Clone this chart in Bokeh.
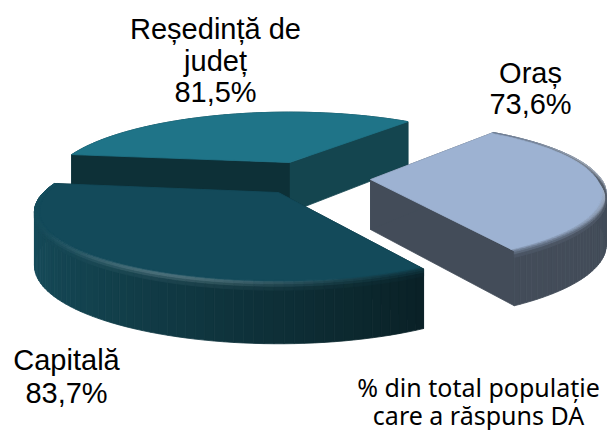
import math
from bokeh.plotting import figure
from bokeh.models import Range1d
from bokeh.core.properties import value
from bokeh.embed import file_html
from bokeh.resources import INLINE

# data
categories = ["Capitală", "Reședință de județ", "Oraș"]
values = [83.7, 81.5, 73.6]
note_lines = ["% din total populație", "care a răspuns DA"]

# layout (pixels of the page)
W, H = 608, 430
BEVEL = 0.022
START = 50.0   # angle of the Oraș / Reședință border
LABEL_FONT, LABEL_SIZE = "Liberation Sans", "29px"
NOTE_FONT, NOTE_SIZE = "Noto Sans", "25px"

STYLES = {
    "Capitală": dict(ax=278, ay=192, f=235, g=66, p=.27, d=52, rot=-1, back=False,
                     top="#134a5a", c0="#1a5566", c1="#12404c", c2="#0a2126",
                     cutA="#0d3037", cutB="#0d3037", hl=0.28, hl_at=250, hl_w=25),
    "Reședință de județ": dict(ax=289, ay=162, f=228, g=66, p=.31, d=50, rot=0, back=True,
                     top="#1f7488", c0="#14454f", c1="#14454f", c2="#14454f",
                     cutA="#14454f", cutB="#0d3037", hl=0.0, hl_at=110, hl_w=30),
    "Oraș": dict(ax=370, ay=179, f=231, g=69, p=.2, d=50, rot=2, back=True,
                 top="#9db2d2", c0="#434c59", c1="#434c59", c2="#434c59",
                 cutA="#434c59", cutB="#434c59", hl=0.45, hl_at=5, hl_w=28),
}
LABELS = [
    (["Capitală", "83,7%"], 66, [359, 392], LABEL_FONT, LABEL_SIZE),
    (["Reședință de", "județ", "81,5%"], 215, [28, 60, 91], LABEL_FONT, LABEL_SIZE),
    (["Oraș", "73,6%"], 530, [72, 103], LABEL_FONT, LABEL_SIZE),
    (note_lines, 478, [386, 414], NOTE_FONT, NOTE_SIZE),
]


def rgb(c):
    return [int(c[i:i + 2], 16) for i in (1, 3, 5)]


def mix(a, b, t):
    t = max(0.0, min(1.0, t))
    ra, rb = rgb(a), rgb(b)
    return "#%02x%02x%02x" % tuple(round(x + (y - x) * t) for x, y in zip(ra, rb))


p = figure(width=W, height=H, x_range=Range1d(0, W), y_range=Range1d(H, 0),
           toolbar_location=None, output_backend="svg", min_border=0, outline_line_color=None)
p.axis.visible = False
p.grid.visible = False
p.background_fill_color = None
p.border_fill_color = None

total = sum(values)
spans = {}
a = START
for name in ["Reședință de județ", "Capitală", "Oraș"]:
    s = values[categories.index(name)] / total * 360
    spans[name] = (a, a + s)
    a += s


def side_color(st, t):
    return mix(st["c0"], st["c1"], t * 2) if t < .5 else mix(st["c1"], st["c2"], t * 2 - 1)


def draw(name):
    st = STYLES[name]
    a0, a1 = spans[name]
    a0 += st["rot"]
    a1 += st["rot"]
    N = 70
    angs = [a0 + (a1 - a0) * i / N for i in range(N + 1)]

    def pt(ang, r=1.0, dz=0.0):
        th = math.radians(ang)
        X, Y = r * math.cos(th), r * math.sin(th)
        w = 1 + st["p"] * Y
        return st["ax"] + st["f"] * X / w, st["ay"] - st["g"] * Y / w + dz * st["d"] * w ** -0.5

    xs, ys, cs = [], [], []

    def add(pts, c):
        xs.append([q[0] for q in pts])
        ys.append([q[1] for q in pts])
        cs.append(c)

    def cuts():
        add([pt(0, 0), pt(a0), pt(a0, 1, 1), pt(0, 0, 1)], st["cutA"])
        add([pt(0, 0), pt(a1), pt(a1, 1, 1), pt(0, 0, 1)], st["cutB"])

    if not st["back"]:
        cuts()
    # outer wall
    for i in range(N):
        t = (i + .5) / N
        add([pt(angs[i]), pt(angs[i + 1]), pt(angs[i + 1], 1, 1), pt(angs[i], 1, 1)], side_color(st, t))
    if st["back"]:
        cuts()
    # bevel
    levels = [(1 - BEVEL, 0), (1 - BEVEL * .6, 0), (1 - BEVEL * .25, 0), (1, 0), (1, .03), (1, .07), (1, .12)]
    for i in range(N):
        t = (i + .5) / N
        ang = (angs[i] + angs[i + 1]) / 2
        d = (ang - st["hl_at"] + 180) % 360 - 180
        h = st["hl"] * math.exp(-(d / st["hl_w"]) ** 2)
        sc = side_color(st, t)
        peak = mix(mix(st["top"], sc, .45), "#ffffff", h)
        if st["back"] and name != "Oraș":
            continue
        for k in range(len(levels) - 1):
            c = mix(st["top"], peak, (k + .5) / 3) if k < 3 else mix(peak, sc, (k - 2.5) / 3)
            r0, z0 = levels[k]
            r1, z1 = levels[k + 1]
            add([pt(angs[i], r0, z0), pt(angs[i + 1], r0, z0), pt(angs[i + 1], r1, z1), pt(angs[i], r1, z1)], c)
    # top
    top_r = 1 if st["back"] and name != "Oraș" else 1 - BEVEL * .9
    add([pt(0, 0)] + [pt(q, top_r) for q in angs], st["top"])
    p.patches(xs, ys, fill_color=cs, line_color=cs, line_width=0.8)


for n in ["Reședință de județ", "Oraș", "Capitală"]:
    draw(n)

for lines, x, yy, font, size in LABELS:
    p.text([x] * len(lines), yy, text=lines, text_align="center", text_baseline="middle",
           text_font=value(font), text_font_size=size, text_color="#000000")

open("out.html", "w").write(file_html(p, INLINE))
